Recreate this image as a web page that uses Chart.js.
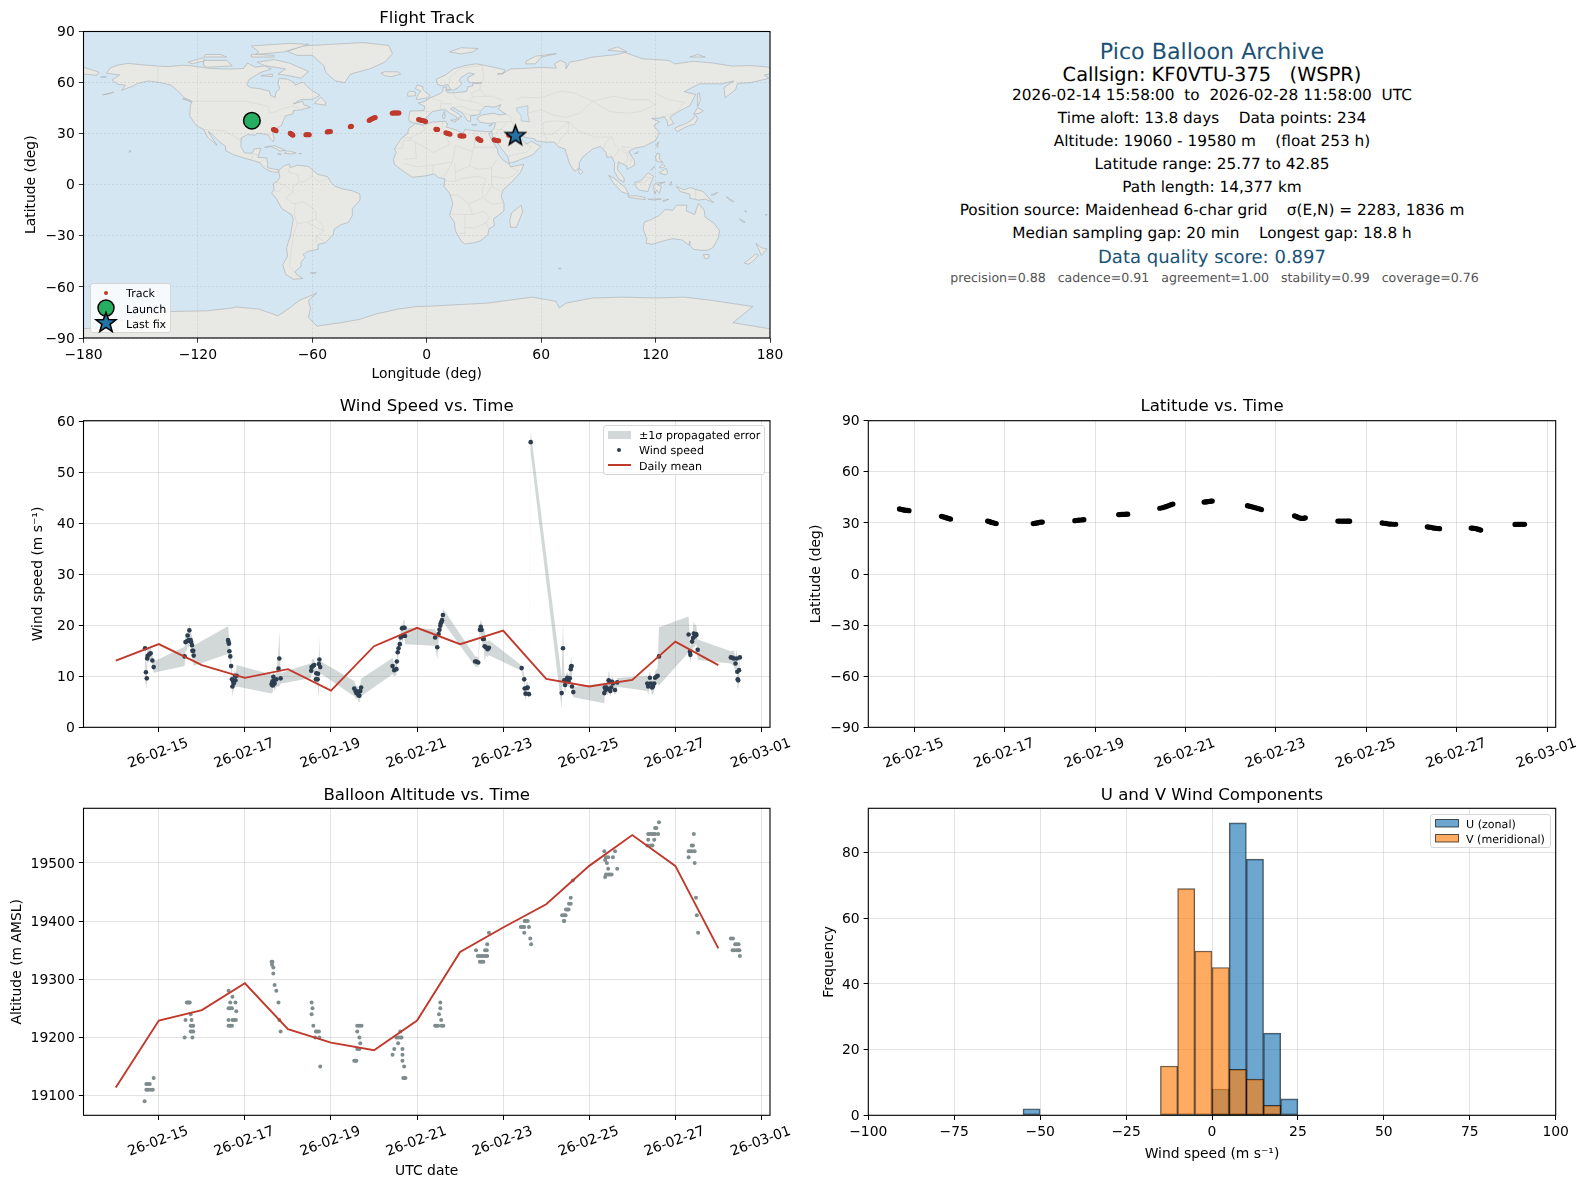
<!DOCTYPE html>
<html>
<head>
<meta charset="utf-8">
<script src="https://cdn.jsdelivr.net/npm/chart.js@4/dist/chart.umd.min.js"></script>
<style>
  html, body { margin: 0; padding: 0; background: #fff; }
  body { position: relative; width: 1588px; height: 1189px; overflow: hidden; font-family: "DejaVu Sans", sans-serif; color: #000; text-rendering: geometricPrecision; }
  canvas { position: absolute; }
  .info { position: absolute; left: 1212px; transform: translate(-50%, -50%); white-space: pre; }
  .legend { position: absolute; box-sizing: border-box; background: rgba(255,255,255,0.8); border: 1px solid #d6d6d6; border-radius: 3px; font-size: 11.1px; z-index: 5; }
  .legend span { position: absolute; transform: translateY(-50%); white-space: pre; }
  .legend svg { position: absolute; overflow: visible; }
</style>
</head>
<body>
<canvas id="mapChart" width="830" height="390" style="left:0;top:0"></canvas>
<canvas id="windChart" width="830" height="385" style="left:0;top:390px"></canvas>
<canvas id="altChart" width="830" height="414" style="left:0;top:775px"></canvas>
<canvas id="latChart" width="798" height="385" style="left:790px;top:390px"></canvas>
<canvas id="histChart" width="798" height="414" style="left:790px;top:775px"></canvas>

<div class="info" style="top:51.5px;font-size:22.2px;color:#1a5276">Pico Balloon Archive</div>
<div class="info" style="top:74.3px;font-size:19.4px">Callsign: KF0VTU-375   (WSPR)</div>
<div class="info" style="top:95.3px;font-size:15.3px">2026-02-14 15:58:00  to  2026-02-28 11:58:00  UTC</div>
<div class="info" style="top:118.3px;font-size:15.3px">Time aloft: 13.8 days    Data points: 234</div>
<div class="info" style="top:141.3px;font-size:15.3px">Altitude: 19060 - 19580 m    (float 253 h)</div>
<div class="info" style="top:164.3px;font-size:15.3px">Latitude range: 25.77 to 42.85</div>
<div class="info" style="top:187.3px;font-size:15.3px">Path length: 14,377 km</div>
<div class="info" style="top:210.3px;font-size:15.3px">Position source: Maidenhead 6-char grid    σ(E,N) = 2283, 1836 m</div>
<div class="info" style="top:233.3px;font-size:15.3px">Median sampling gap: 20 min    Longest gap: 18.8 h</div>
<div class="info" style="top:257px;font-size:18.05px;color:#1a5276">Data quality score: 0.897</div>
<div class="info" style="left:1214.5px;top:277px;font-size:12.6px;color:#555">precision=0.88   cadence=0.91   agreement=1.00   stability=0.99   coverage=0.76</div>

<div class="legend" style="left:90px;top:283px;width:81px;height:50px">
  <svg style="left:15px;top:9px" width="1" height="1"><circle r="2" fill="#c0392b"/></svg>
  <svg style="left:15px;top:24px" width="1" height="1"><circle r="8" fill="#27ae60" stroke="#000" stroke-width="1.5"/></svg>
  <svg style="left:15px;top:39px" width="1" height="1"><polygon points="0,-10.5 2.6,-3.4 10,-3.2 4.1,1.3 6.2,8.5 0,4.3 -6.2,8.5 -4.1,1.3 -10,-3.2 -2.6,-3.4" fill="#2471a3" stroke="#000" stroke-width="1.5"/></svg>
  <span style="left:35px;top:9px">Track</span>
  <span style="left:35px;top:24.5px">Launch</span>
  <span style="left:35px;top:40px">Last fix</span>
</div>
<div class="legend" style="left:603px;top:425px;width:162px;height:50px">
  <svg style="left:4px;top:5px" width="24" height="10"><rect width="23" height="8" fill="rgba(127,140,141,0.35)"/></svg>
  <svg style="left:15px;top:24px" width="1" height="1"><circle r="2" fill="#2c3e50"/></svg>
  <svg style="left:4px;top:39px" width="24" height="1"><line x1="0" x2="23" y1="0" y2="0" stroke="#c0392b" stroke-width="2"/></svg>
  <span style="left:35px;top:9px">±1σ propagated error</span>
  <span style="left:35px;top:24px">Wind speed</span>
  <span style="left:35px;top:40px">Daily mean</span>
</div>
<div class="legend" style="left:1430px;top:814px;width:121px;height:34px">
  <svg style="left:4px;top:4px" width="24" height="9"><rect x="0.5" y="0.5" width="23" height="7.5" fill="rgba(31,119,180,0.65)" stroke="rgba(0,0,0,0.65)"/></svg>
  <svg style="left:4px;top:19px" width="24" height="9"><rect x="0.5" y="0.5" width="23" height="7.5" fill="rgba(255,127,14,0.65)" stroke="rgba(0,0,0,0.65)"/></svg>
  <span style="left:35px;top:9px">U (zonal)</span>
  <span style="left:35px;top:24px">V (meridional)</span>
</div>

<script>
// ----- Tick labels -----
const dateTicks = [15, 17, 19, 21, 23, 25, 27, 29];
const dateLabels = ['26-02-15', '26-02-17', '26-02-19', '26-02-21', '26-02-23', '26-02-25', '26-02-27', '26-03-01'];
const degTicks = [-90, -60, -30, 0, 30, 60, 90];
const lonTicks = [-180, -120, -60, 0, 60, 120, 180];

// ----- Wind speed, one row per daily cluster. Times are days of February 2026 -----
const windTime = [
  14.68, 14.70, 14.72, 14.73, 14.74, 14.78, 14.81, 14.85, 14.88,
  15.60, 15.62, 15.66, 15.67, 15.70, 15.71, 15.74, 15.75, 15.77, 15.78, 15.80, 15.81,
  16.61, 16.62, 16.63, 16.64, 16.66, 16.68, 16.70, 16.71, 16.73, 16.74, 16.77, 16.78, 16.81,
  17.62, 17.63, 17.64, 17.65, 17.66, 17.68, 17.69, 17.73, 17.78, 17.80, 17.83,
  18.54, 18.55, 18.58, 18.61, 18.65, 18.66, 18.69, 18.70, 18.72, 18.73, 18.75,
  19.54, 19.57, 19.59, 19.61, 19.64, 19.66, 19.68, 19.70,
  20.43, 20.47, 20.52, 20.53, 20.55, 20.57, 20.60, 20.62, 20.65, 20.67, 20.68, 20.71, 20.72,
  21.42, 21.47, 21.50, 21.52, 21.54, 21.55, 21.57, 21.58, 21.60,
  22.35, 22.38, 22.42, 22.46, 22.48, 22.50, 22.53, 22.55, 22.57, 22.60, 22.64, 22.67,
  23.43, 23.49, 23.50, 23.52, 23.55, 23.57, 23.60, 23.64,
  24.36, 24.39, 24.42, 24.44, 24.47, 24.49, 24.52, 24.55, 24.57, 24.58, 24.59, 24.60, 24.63,
  25.35, 25.36, 25.38, 25.40, 25.43, 25.45, 25.47, 25.49, 25.51, 25.53, 25.55, 25.60, 25.65,
  26.35, 26.37, 26.41, 26.43, 26.46, 26.48, 26.51, 26.53, 26.56, 26.59, 26.62,
  27.31, 27.34, 27.35, 27.39, 27.41, 27.43, 27.45, 27.48, 27.49, 27.52,
  28.29, 28.33, 28.36, 28.40, 28.43, 28.44, 28.45, 28.46, 28.48, 28.50
];
const windSpeed = [
  15.5, 10.8, 9.6, 13.5, 14.0, 14.3, 14.5, 13.1, 11.8,
  13.9, 16.7, 16.9, 18.0, 17.1, 19.0, 17.1, 16.7, 16.1, 15.0, 15.0, 14.05,
  17.1, 16.7, 16.4, 14.9, 13.9, 12.0, 9.4, 8.0, 9.0, 8.6, 10.1, 9.2, 10.1,
  8.5, 8.3, 9.0, 8.2, 9.9, 9.2, 8.6, 9.4, 11.5, 13.5, 9.6,
  11.1, 11.8, 12.0, 12.2, 9.4, 10.6, 9.4, 10.5, 12.4, 13.3, 11.8,
  7.6, 7.1, 6.7, 7.0, 6.3, 6.2, 7.1, 7.8,
  12.0, 11.2, 11.4, 12.9, 14.7, 15.5, 16.3, 17.6, 19.4, 17.9, 19.5, 19.5, 17.9,
  17.6, 15.7, 18.3, 19.1, 19.9, 20.4, 20.7, 21.0, 22.0,
  12.9, 12.9, 12.7, 19.1, 19.7, 19.1, 17.3, 17.3, 15.9, 15.7, 15.3, 15.6,
  11.6, 9.4, 7.6, 6.6, 7.7, 7.8, 6.5, 55.9,
  6.7, 15.5, 9.2, 8.3, 9.3, 9.7, 9.0, 9.6, 11.4, 11.9, 12.0, 8.0, 6.9,
  6.7, 7.8, 7.3, 7.8, 7.5, 9.2, 9.0, 7.1, 7.8, 8.9, 8.6, 7.3, 8.8,
  8.6, 8.0, 9.7, 8.6, 7.8, 8.0, 8.6, 9.7, 9.9, 10.1, 13.9,
  18.2, 14.8, 14.2, 16.8, 17.5, 18.4, 17.8, 18.3, 18.1, 15.2,
  13.7, 13.6, 13.5, 12.5, 13.5, 10.9, 9.4, 9.2, 11.2, 13.7
];
const windSigma = [
  1.0, 2.2, 2.2, 1.8, 1.3, 1.3, 1.2, 1.1, 1.1,
  1.9, 1.8, 1.7, 1.8, 1.7, 1.6, 1.7, 1.8, 1.9, 2.0, 2.0, 2.0,
  2.7, 2.2, 1.9, 1.5, 1.3, 1.2, 1.6, 2.2, 1.5, 1.5, 1.3, 1.3, 2.1,
  1.85, 1.6, 1.5, 1.4, 1.6, 1.4, 1.5, 1.5, 3.5, 5.5, 1.05,
  1.45, 1.4, 1.4, 1.3, 1.6, 1.3, 1.6, 2.5, 6.0, 3.0, 1.2,
  1.5, 1.3, 1.3, 1.2, 1.3, 1.4, 1.4, 1.7,
  1.6, 1.2, 1.2, 1.2, 1.2, 1.2, 1.3, 1.3, 1.4, 1.3, 1.5, 1.5, 1.6,
  1.6, 2.4, 1.3, 1.2, 1.3, 1.3, 1.3, 1.3, 1.3,
  1.0, 1.0, 1.0, 1.2, 1.4, 1.5, 2.0, 1.8, 3.0, 1.6, 1.5, 1.5,
  0.5, 1.0, 1.2, 1.3, 1.2, 1.1, 1.1, 2.2,
  3.0, 5.2, 1.6, 1.6, 1.2, 1.2, 1.2, 1.3, 1.5, 1.9, 2.0, 1.2, 1.0,
  2.0, 1.2, 1.2, 1.2, 1.2, 1.9, 1.5, 1.1, 1.1, 1.1, 1.1, 1.0, 0.85,
  1.5, 1.6, 1.5, 1.3, 1.5, 1.5, 1.4, 1.3, 1.4, 1.5, 5.7,
  3.5, 1.5, 1.6, 2.0, 2.2, 2.5, 2.2, 1.9, 1.8, 2.0,
  1.2, 1.4, 1.6, 1.3, 1.9, 1.8, 1.7, 1.8, 2.1, 1.8
];
const dailyDays = [14, 15, 16, 17, 18, 19, 20, 21, 22, 23, 24, 25, 26, 27, 28];
const dailyWind = [13.07, 16.3, 12.2, 9.7, 11.4, 7.2, 15.9, 19.5, 16.3, 18.95, 9.5, 8.0, 9.3, 16.8, 12.2];
const dailyAlt = [19114, 19229, 19247, 19293, 19214, 19191, 19178, 19229, 19347, 19389, 19429, 19495, 19548, 19495, 19353];

// ----- Altitude points -----
const altTime = [
  14.67, 14.71, 14.75, 14.71, 14.75, 14.79, 14.81, 14.86, 14.88,
  15.65, 15.67, 15.70, 15.72, 15.74, 15.62, 15.76, 15.74, 15.77, 15.80, 15.74, 15.77, 15.80, 15.60, 15.78,
  16.62, 16.71, 16.66, 16.78, 16.62, 16.66, 16.70, 16.80, 16.62, 16.71, 16.75, 16.79, 16.62, 16.66, 16.70,
  17.62, 17.64, 17.63, 17.66, 17.66, 17.69, 17.73, 17.78, 17.80, 17.83,
  18.55, 18.57, 18.55, 18.59, 18.65, 18.68, 18.72, 18.63, 18.73, 18.75,
  19.61, 19.66, 19.71, 19.61, 19.66, 19.68, 19.61, 19.66, 19.54, 19.57, 19.59,
  20.61, 20.52, 20.56, 20.61, 20.64, 20.56, 20.47, 20.66, 20.43, 20.66, 20.66, 20.70, 20.68, 20.70, 20.73,
  21.54, 21.54, 21.51, 21.56, 21.42, 21.45, 21.49, 21.57, 21.61,
  22.67, 22.63, 22.58, 22.62, 22.37, 22.41, 22.46, 22.50, 22.54, 22.59, 22.63, 22.46, 22.50, 22.54,
  23.50, 23.53, 23.57, 23.41, 23.45, 23.49, 23.60, 23.49, 23.63, 23.65,
  24.62, 24.57, 24.53, 24.57, 24.46, 24.49, 24.52, 24.37, 24.42, 24.45, 24.41, 24.42,
  25.35, 25.60, 25.39, 25.44, 25.55, 25.37, 25.41, 25.44, 25.65, 25.39, 25.44, 25.48, 25.52, 25.37,
  26.62, 26.53, 26.56, 26.37, 26.41, 26.45, 26.49, 26.53, 26.60, 26.37, 26.51, 26.35, 26.43, 26.47,
  27.43, 27.38, 27.41, 27.31, 27.35, 27.39, 27.45, 27.31, 27.45, 27.48, 27.50, 27.53,
  28.29, 28.34, 28.39, 28.43, 28.47, 28.33, 28.37, 28.43, 28.46, 28.49, 28.50
];
const altMeters = [
  19090, 19110, 19110, 19120, 19120, 19120, 19110, 19110, 19130,
  19260, 19260, 19260, 19260, 19240, 19230, 19230, 19220, 19220, 19220, 19210, 19210, 19210, 19200, 19200,
  19280, 19270, 19260, 19260, 19250, 19250, 19250, 19245, 19230, 19230, 19230, 19230, 19220, 19220, 19220,
  19330, 19330, 19325, 19320, 19310, 19290, 19280, 19260, 19230, 19210,
  19260, 19250, 19240, 19220, 19210, 19210, 19210, 19200, 19200, 19150,
  19220, 19220, 19220, 19210, 19200, 19190, 19180, 19180, 19160, 19160, 19160,
  19210, 19200, 19200, 19200, 19200, 19190, 19180, 19180, 19170, 19170, 19160, 19150, 19130, 19130, 19130,
  19260, 19250, 19240, 19230, 19220, 19220, 19220, 19220, 19220,
  19380, 19360, 19350, 19350, 19350, 19340, 19340, 19340, 19340, 19340, 19340, 19330, 19330, 19330,
  19400, 19400, 19400, 19390, 19390, 19390, 19390, 19380, 19370, 19360,
  19470, 19440, 19430, 19430, 19420, 19420, 19420, 19410, 19410, 19410, 19400, 19400,
  19520, 19520, 19510, 19510, 19510, 19505, 19500, 19490, 19490, 19480, 19480, 19480, 19480, 19476,
  19570, 19560, 19560, 19550, 19550, 19550, 19550, 19550, 19550, 19540, 19540, 19530, 19530, 19530,
  19550, 19530, 19530, 19520, 19520, 19520, 19520, 19510, 19500, 19440, 19410, 19380,
  19370, 19370, 19360, 19360, 19360, 19350, 19350, 19350, 19350, 19350, 19340
];

// ----- Latitude points -----
const latTime = [
  14.67, 14.70, 14.73, 14.76, 14.79, 14.82, 14.85, 14.88,
  15.60, 15.63, 15.66, 15.69, 15.72, 15.75, 15.78, 15.80,
  16.62, 16.65, 16.68, 16.71, 16.74, 16.77, 16.81,
  17.63, 17.66, 17.69, 17.72, 17.75, 17.79, 17.83,
  18.55, 18.58, 18.61, 18.64, 18.68, 18.72, 18.75,
  19.52, 19.55, 19.58, 19.61, 19.64, 19.68, 19.72,
  20.43, 20.48, 20.52, 20.56, 20.60, 20.64, 20.68, 20.72,
  21.41, 21.44, 21.47, 21.50, 21.53, 21.56, 21.59,
  22.37, 22.41, 22.45, 22.49, 22.53, 22.57, 22.61, 22.65, 22.68,
  23.41, 23.44, 23.47, 23.50, 23.54, 23.58, 23.62, 23.65,
  24.37, 24.41, 24.45, 24.49, 24.53, 24.57, 24.60, 24.63,
  25.35, 25.39, 25.43, 25.47, 25.51, 25.55, 25.60, 25.65,
  26.35, 26.39, 26.43, 26.47, 26.51, 26.55, 26.59, 26.62,
  27.32, 27.35, 27.38, 27.41, 27.44, 27.47, 27.50, 27.53,
  28.29, 28.32, 28.35, 28.38, 28.41, 28.44, 28.47, 28.50
];
const latDeg = [
  38.2, 38.0, 37.8, 37.6, 37.5, 37.4, 37.3, 37.2,
  33.9, 33.6, 33.4, 33.1, 32.9, 32.6, 32.4, 32.3,
  31.1, 30.9, 30.6, 30.3, 30.1, 29.9, 29.6,
  29.6, 29.7, 29.9, 30.0, 30.2, 30.4, 30.5,
  31.3, 31.4, 31.5, 31.6, 31.7, 31.8, 31.9,
  34.9, 34.9, 35.0, 35.0, 35.0, 35.1, 35.1,
  38.6, 38.9, 39.2, 39.5, 39.9, 40.3, 40.7, 41.1,
  42.2, 42.3, 42.4, 42.5, 42.6, 42.75, 42.85,
  40.1, 39.8, 39.6, 39.3, 39.0, 38.7, 38.4, 38.1, 37.8,
  34.2, 33.9, 33.5, 33.1, 32.8, 32.6, 32.8, 33.0,
  31.1, 31.0, 31.0, 31.0, 31.0, 31.0, 31.0, 31.0,
  30.0, 29.8, 29.7, 29.5, 29.3, 29.3, 29.2, 29.2,
  27.7, 27.5, 27.4, 27.1, 26.9, 26.8, 26.7, 26.6,
  27.0, 26.9, 26.8, 26.7, 26.5, 26.3, 26.0, 25.77,
  29.1, 29.2, 29.2, 29.2, 29.2, 29.2, 29.2, 29.2
];

// ----- Flight track -----
const trackLon = [
  -92, -91, -90, -89,
  -80.4, -80, -79.6, -79.3, -79,
  -71.6, -71.2, -70.8, -70.5, -70.2,
  -63.4, -63, -62.5, -62, -61.6,
  -52.2, -51.8, -51.4, -51, -50.5,
  -40.1, -39.9, -39.7, -39.5,
  -30.2, -29.7, -29.2, -28.6, -28, -27.5, -27,
  -18.1, -17.5, -16.9, -16.3, -15.7, -15.1, -14.6,
  -4.3, -3.7, -3.1, -2.5, -1.9, -1.2, -0.6,
  4.8, 5.1, 5.4, 5.7,
  10, 10.6, 11.1, 11.7, 12.2,
  17.4, 17.9, 18.4, 19, 19.5,
  26.7, 27.1, 27.5, 28, 28.4,
  35.3, 35.9, 36.5, 37.1, 37.7,
  43, 44, 45, 46
];
const trackLat = [
  38.2, 37.9, 37.5, 37.2,
  32.5, 32.3, 32.1, 31.9, 31.7,
  30.3, 30, 29.7, 29.4, 29.1,
  29.3, 29.3, 29.3, 29.4, 29.4,
  31, 31.1, 31.1, 31.1, 31.2,
  34, 34.2, 34.2, 34.3,
  37.8, 38.1, 38.4, 38.7, 39, 39.3, 39.5,
  42, 42.1, 42.1, 42.1, 42.2, 42.2, 42.2,
  38.3, 38.1, 37.9, 37.8, 37.6, 37.4, 37.2,
  32.6, 32.5, 32.5, 32.4,
  30.5, 30.3, 30.1, 29.9, 29.7,
  28.8, 28.7, 28.7, 28.7, 28.6,
  27, 26.8, 26.5, 26.2, 26,
  26.4, 26.2, 26, 25.8, 25.77,
  29, 29.1, 29.2, 29.2
];
const launchPoint = { x: -91.7, y: 37.6 };
const lastFixPoint = { x: 46.5, y: 28.7 };

// ----- Wind component histogram, 5 m/s bins from -100 to 100 -----
const binCentres = [
  -97.5, -92.5, -87.5, -82.5, -77.5, -72.5, -67.5, -62.5, -57.5, -52.5,
  -47.5, -42.5, -37.5, -32.5, -27.5, -22.5, -17.5, -12.5, -7.5, -2.5,
  2.5, 7.5, 12.5, 17.5, 22.5, 27.5, 32.5, 37.5, 42.5, 47.5,
  52.5, 57.5, 62.5, 67.5, 72.5, 77.5, 82.5, 87.5, 92.5, 97.5
];
const uCounts = [0, 0, 0, 0, 0, 0, 0, 0, 0, 2, 0, 0, 0, 0, 0, 0, 0, 0, 0, 0, 8, 89, 78, 25, 5, 0, 0, 0, 0, 0, 0, 0, 0, 0, 0, 0, 0, 0, 0, 0];
const vCounts = [0, 0, 0, 0, 0, 0, 0, 0, 0, 0, 0, 0, 0, 0, 0, 0, 0, 15, 69, 50, 45, 14, 11, 3, 0, 0, 0, 0, 0, 0, 0, 0, 0, 0, 0, 0, 0, 0, 0, 0];

// ----- Map outlines as [lon, lat] -----
const northAmerica = [[-168,65.5],[-166,68.5],[-162,70.3],[-156.5,71.3],[-150,70.5],[-141,69.7],[-135,69.4],[-128,70.2],[-124,69.9],[-115,68.5],[-108,68],[-102,68],[-96,68.3],[-94,71.5],[-90,69],[-85,69.8],[-81.5,68],[-87,66],[-93,62],[-94.5,58.8],[-92.5,57],[-88,56.5],[-82.5,55],[-82,52.5],[-79.5,51.3],[-79,54.5],[-77,56.5],[-78,59],[-77.5,62.5],[-73,62],[-69.5,60],[-69,58.5],[-65,60.3],[-61,56],[-56,52.5],[-60,50.2],[-66,50],[-70,47.5],[-65,49],[-64.5,47],[-61,45.5],[-66,44],[-70,43.5],[-70,41.7],[-74,40.5],[-75.5,37],[-76,35],[-81,31.5],[-80,27],[-80.5,25.2],[-82,27],[-83,29.2],[-85,29.7],[-89,30.3],[-90,29.1],[-94,29.5],[-97.3,27.5],[-97.5,22.5],[-95.5,18.7],[-91.5,18.5],[-90.5,21],[-87,21.5],[-88,18],[-88.5,16],[-84,15.8],[-83.3,12],[-83.5,10],[-80,9.2],[-77.5,8.7],[-77.5,7.5],[-80,7.3],[-83,8.3],[-85.5,10],[-87.5,13],[-92,14.5],[-96,15.8],[-101,17.5],[-105.5,20],[-105.5,22.5],[-109,25.5],[-112.5,29.5],[-114.7,31.5],[-112.5,27.5],[-110,23.2],[-112,25],[-115,28],[-117,32.5],[-120.5,34.5],[-122.5,37.5],[-124.3,40.5],[-124,46.5],[-123,49],[-127,51],[-130.5,55],[-134,58.5],[-140,60],[-146,61],[-151.5,59.5],[-154,58],[-160,55.5],[-158,58.5],[-162,59],[-165,61.5],[-161,64.5]];
const greenland = [[-73,78.3],[-65,81.5],[-50,82.5],[-33,83.5],[-20,81.8],[-18,77],[-22,72],[-30,68],[-40,65],[-43,60],[-48,61],[-53,66],[-54,70],[-60,76],[-68,76]];
const southAmerica = [[-77.5,8.5],[-75,11],[-72,12.2],[-71.5,10],[-68,11.5],[-62,10.7],[-57,6],[-52,4.8],[-50,1],[-48,-1],[-44,-2.5],[-39,-3.5],[-35,-5.5],[-35,-9],[-39,-14],[-39,-18],[-41,-22],[-45,-23.5],[-48.5,-26],[-49,-29],[-53,-34],[-57,-35],[-57,-38],[-62,-39],[-65,-41],[-63.5,-42.5],[-66,-45.5],[-66,-48],[-69,-51],[-68,-53],[-65,-55],[-70,-55.5],[-74,-52.5],[-75.5,-47],[-73,-42],[-73.5,-37],[-71.5,-30],[-70,-20],[-71,-17.5],[-76,-14],[-79,-8],[-81.3,-5],[-80,-2.5],[-80.5,0.5],[-78.5,2],[-77,4],[-77.5,7]];
const africa = [[-6,35.8],[-2,35],[3,36.8],[10,37.3],[11,35],[10,34],[15,32.3],[19,30.3],[20,32.5],[25,31.7],[32,31.2],[34.3,31.3],[32.5,29.9],[34,26.5],[37,21],[37.5,18],[39.5,15],[43.3,12],[44,10.5],[51,12],[49,7],[44,1],[40,-3],[39,-7],[40.5,-11],[40.5,-15.5],[35,-20],[35.5,-24],[32.7,-26],[32,-29.5],[28,-33],[25,-34],[20,-34.8],[18.3,-33.5],[15,-27],[14.5,-22],[12,-18],[13.7,-11],[12,-5],[9,-1],[9.5,3.5],[6,4.3],[4,6.3],[-2,5],[-7.5,4.4],[-13,8.5],[-17,12],[-17.5,15],[-16,19],[-17,21],[-13,27.7],[-10,30],[-9.5,33]];
const eurasia = [[-9,37],[-9.5,39],[-8.8,43.3],[-1.5,43.5],[-1,46],[-4.5,48],[-1.5,48.7],[1.5,50.8],[4,52],[7,53.5],[8.5,55],[8.5,57],[10.5,57.6],[10,55],[11,54],[14,54],[19,54.5],[21,55],[21.5,57.5],[24,58],[24,59.3],[29,59.8],[23,60],[21.5,61],[21.5,63],[25,65],[22,65.8],[18,63],[17,61],[18.5,59.5],[16.5,57],[14,55.5],[12.5,56],[11,59],[8,58],[5.5,59],[5,62],[10,64.5],[14,68],[20,70],[26,71],[31,70],[41,67.5],[40,65],[37,65],[40,65.5],[44,68],[54,68.5],[60,69],[68,68.5],[67,71],[70,73],[73,71.5],[73,68],[75,72],[80,73],[87,75],[100,76.5],[104,77.7],[113,74],[127,73],[130,71],[140,72.5],[150,71.5],[160,69.7],[170,70],[180,69],[180,65],[177,64.5],[179.5,62.5],[170,60],[163,59.5],[162,56],[156.5,51],[155.8,57],[161,61],[155,59.3],[143,59.3],[135,54.7],[141,53],[138,46.5],[132,43],[127.5,39.7],[129.5,36],[126.5,34.5],[126,37.5],[124.5,40],[121.5,39],[118,39],[122,37],[119,34.8],[122,30.5],[120,26],[114,22.5],[109,21.5],[106,19.5],[109,14],[109,11.5],[105,9],[105,11],[100.5,13.5],[100,9],[103.5,4],[103.5,1.5],[101,3],[98.3,8],[98.5,13],[97,16.5],[94.5,16],[94,19],[91,22.5],[87,21],[82,16.5],[80,13],[80,10],[77.5,8],[75,12],[73,19],[72.5,21],[69,22.3],[67,25],[61.5,25],[57,25.8],[56.5,27],[51.5,27.8],[48.5,30],[48,29.5],[50,26.5],[51.5,25],[52,24],[55,25.5],[56.5,24.5],[59.8,22.5],[55.5,17.5],[52,16],[45,13],[43.3,12.7],[42.5,16.5],[39,21.5],[35,28],[34.5,28],[34,31.3],[35.5,33.5],[36,36.5],[32.5,36],[28,36.7],[26.3,39],[29,41],[35,42],[38,41],[41.5,41.5],[37.5,44.5],[39,47],[35,45.5],[33,46],[30.5,46],[28,43],[28,41.5],[26,40.8],[23,40.5],[23,37],[21,38],[19.5,41],[19,42],[13.5,45.5],[12.5,44.5],[16,42],[18.5,40],[16.5,39.5],[17,38.5],[16,38],[15.5,40],[12,42],[10,44],[8,44],[3,43],[0,39.5],[-2,37],[-5.5,36]];
const antarctica = [[-180,-84.5],[-172,-84],[-158,-79],[-148,-76],[-135,-74.5],[-115,-74],[-103,-72.5],[-100,-71.8],[-88,-73],[-78,-77],[-72,-72.5],[-67,-68],[-57.6,-63.6],[-62,-68],[-61,-72.5],[-62,-78],[-57.6,-83],[-45,-81],[-35,-79],[-27,-76],[-15,-73],[-5,-71.5],[0,-71.4],[15,-70.5],[32,-69.5],[45,-67.5],[55.5,-66],[67.8,-68.5],[69.5,-72.4],[73,-69.5],[87,-66.5],[103,-66],[120,-66.5],[135,-66],[150,-68],[171,-71.5],[164,-78],[160.5,-81],[180,-84.6],[180,-90],[-180,-90]];
const australia = [[114,-22],[113.5,-26],[115.5,-32],[115,-34.3],[118,-35],[124,-33],[129,-31.7],[134,-32.5],[137.5,-35.5],[138,-33],[138,-35.7],[140,-38],[144,-38.5],[147,-38.5],[150,-37],[153,-31],[153.5,-27],[150.5,-22.5],[146,-19],[145.5,-15],[142.5,-11],[141.5,-14],[140.5,-17.5],[136,-15.3],[136.5,-12],[131,-12],[129,-15],[125,-14.5],[122,-18],[118,-20.3]];
const islands = [
  [[-80,73.5],[-72,71.5],[-67,69],[-62,66.5],[-66,62.5],[-72,64],[-78,65],[-74,68],[-85,70],[-89,72]],
  [[-117,73],[-105,73],[-102,69.8],[-115,69],[-117,70]],
  [[-90,76.5],[-75,78],[-62,82.5],[-72,83],[-92,81.5],[-88,78]],
  [[-125,72],[-118,74.5],[-116,73],[-123,71]],
  [[-92,75],[-80,75],[-80,76],[-92,76.7]],
  [[-117,75],[-105,75],[-108,76.5],[-116,76.5]],
  [[-87,64],[-81,63.5],[-81,65]],
  [[-59,47.7],[-53,46.7],[-53,48.5],[-55.5,51.5]],
  [[-128,50.5],[-123.5,48.5],[-125,50]],
  [[-24,65.5],[-22,66.4],[-15,66.3],[-13.7,65],[-18.5,63.5],[-22,64]],
  [[-5.5,50],[1,51],[1.5,52.8],[-1,54.7],[-2,56],[-2,57.6],[-5,58.6],[-6,56.5],[-3,54.8],[-4.5,53.2],[-5,51.7]],
  [[-10,52],[-6,52.2],[-6,54.5],[-8.5,55],[-10,54]],
  [[12,78],[18,76.8],[24,78],[27,80],[18,80.5]],
  [[52,71],[57,71],[60,75],[68,77],[57,75.5],[52,72.5]],
  [[95,79],[105,78],[100,81]],
  [[138,75],[146,75],[142,76.5]],
  [[142,46],[143.5,49.5],[143,54],[142,53.5],[142,49]],
  [[130,33],[132,34.3],[136,36],[139,38],[141,41],[142,39],[140.5,35.5],[137,34.5],[135,33.5],[131.5,31.2]],
  [[140,41.5],[142,45.3],[145,43.5],[143,42]],
  [[120.2,23],[121.5,25.2],[121,22]],
  [[109,18.3],[111,19.5],[110.5,18.5]],
  [[120,16],[120.7,18.5],[122.2,18.3],[122,15],[124,13],[120.5,13.8]],
  [[122,7],[125.5,9.7],[126.5,7],[125,5.7]],
  [[117.5,8.5],[119.5,11],[119,10]],
  [[122,10],[123.5,12],[125,11],[124,10]],
  [[109,1.5],[111,1.7],[113,3],[116,7],[119,5],[117.5,1],[116,-4],[111,-3],[109.5,-0.5]],
  [[95.3,5.5],[98,4],[104,-1.5],[106,-5.8],[102,-4],[98,1]],
  [[105.5,-6.5],[110,-6.5],[114.5,-7.5],[114.5,-8.7],[106,-7.5]],
  [[119.5,-5.5],[119,-1],[120,1],[125,1.5],[121,0],[123,-1],[122,-5],[120.5,-3]],
  [[124,-10],[127,-8.5],[124,-9.2]],
  [[116,-8.5],[120,-8.3],[123,-8.4],[119,-9]],
  [[127.5,1],[128.5,2],[128,-0.5]],
  [[131,-1],[135,-3],[138,-1.7],[145,-4],[148,-8],[150.5,-10.5],[146,-8.5],[142.5,-9],[138,-8],[138,-5.5],[133,-4]],
  [[149,-6],[152.5,-4.5],[151,-6]],
  [[157,-7],[161,-9.8],[160,-10]],
  [[145,-41],[148,-41],[148,-43],[146,-43.5]],
  [[172.7,-34.5],[175.5,-37],[178.5,-37.7],[175.5,-41.5],[174.5,-39]],
  [[172.5,-40.5],[174,-41.5],[171,-45],[168.5,-46.7],[166.5,-46],[170,-43]],
  [[164,-20],[167,-22],[165.5,-21.8]],
  [[167,-15],[167.8,-16],[167,-16]],
  [[177.5,-17.5],[178.5,-17.5],[178,-18.2]],
  [[49.5,-12],[50.3,-16],[47,-25],[44,-25],[43.5,-21],[44.5,-16.5]],
  [[80,9.7],[82,7.5],[80.5,6],[79.7,8]],
  [[-85,22],[-80,23],[-74,20.2],[-77.5,19.8],[-78,20.7],[-82,22.5]],
  [[-74.5,18.5],[-73,20],[-68.5,18.7],[-71,18]],
  [[-78.3,18.3],[-76.3,18],[-77,17.8]],
  [[-67,18.4],[-65.7,18.3],[-66,18]],
  [[-156,19],[-155,19.7],[-155.8,20.2]],
  [[-61,-51.8],[-58,-51.5],[-59,-52.3]],
  [[69,-49],[70.5,-49],[70,-49.7]],
  [[32.5,34.7],[34.5,35.6],[33.5,34.7]],
  [[23.5,35.4],[26.3,35.2],[24.5,34.9]],
  [[12.5,38],[15.5,38.2],[15,36.7]],
  [[8.2,41],[9.7,41],[9.5,39.2],[8.5,39]],
  [[8.7,42.5],[9.5,43],[9.3,41.4]],
  [[-170,63.5],[-168,63.2],[-171,63.2]],
  [[-170,52.8],[-164,54.5],[-166,53.5]],
  [[-180,65],[-173,64.3],[-172,66.2],[-180,69]],
  [[10,56],[12.5,55.7],[11,55]]
];
const inlandWater = [
  [[47,45],[53,46.5],[53,41],[54,37],[49.5,37.5],[49.5,40.5],[47.5,43]]
];
const borders = [
  [[-123,49],[-95,49],[-83,46],[-82.5,42],[-79,43],[-75,45],[-70,46],[-67,45]],[[-141,60],[-141,69.7]],[[-117,32.5],[-106,31.7],[-97.5,26]],
  [[-92,14.5],[-91,17.8],[-89,17.8],[-88.5,16]],[[-87.5,13],[-85,15]],[[-85.5,11],[-83.7,11]],[[-83,8.3],[-82.7,10]],
  [[-72,12],[-72.5,7.5],[-67.5,6],[-67,1.5]],[[-67,1.5],[-70,-1],[-70,-4.2]],[[-79,1.5],[-75,0],[-70,-4.2]],[[-80.3,-3.5],[-78,-4],[-75,-1]],
  [[-70,-4.2],[-74,-7.5],[-70.5,-11],[-69,-11]],[[-69,-11],[-65,-10],[-60,-13.5],[-58,-16.5],[-58,-20]],[[-69,-11],[-69.5,-17.5],[-68,-22.8],[-62.5,-22],[-58,-20]],
  [[-62.5,-22],[-58,-25],[-54.5,-27],[-54.5,-24],[-58,-20]],[[-68,-22.8],[-70,-30],[-71,-38],[-72,-48],[-69,-52]],[[-58,-34],[-58,-30],[-53.5,-33.5]],[[-57.5,-30],[-53.5,-27]],
  [[-60,8.5],[-60,5],[-57,2],[-54,2.3],[-52,3.8]],[[-67,1.5],[-64,2],[-60,5]],
  [[-2,35],[-1,32],[-8.7,27.5]],[[-13,27.7],[-8.7,27.5],[-8.7,26],[-12,26],[-13,21.5],[-17,21]],[[-12,15],[-5.5,15.5],[-6,25],[-8.7,27.5]],[[-6,25],[3.5,19],[12,23.5]],
  [[8.5,37],[8,33],[10,30],[12,23.5]],[[25,31.7],[25,22]],[[15,23],[24,19.5],[25,22]],[[25,22],[36.8,22]],[[15,23],[13.5,13.5]],[[3,6.4],[3.5,11.5],[13.5,13.5],[9,4.5]],
  [[-12,12.5],[-5,10.5],[3.5,11.5]],[[14.5,12.8],[15,7.5],[15,2],[9.7,2.2]],[[24,19.5],[22.5,11],[15,7.5]],[[22.5,11],[27,9],[34,10]],[[36.8,15],[34,10],[34,5]],
  [[43,11],[48,8],[45,5],[41,3.8],[34,5]],[[34,5],[34,-1],[39.5,-4.6]],[[15,2],[18,3.5],[27,5],[31,3.5],[29.5,-1],[29,-8],[22,-11]],[[12.2,-6],[16,-6],[22,-11],[24,-17.5]],
  [[34,-1],[30,-8],[34.5,-11.5],[40.5,-10.5]],[[12,-17.3],[24,-17.5],[30,-15.5]],[[20,-18],[20,-28.5],[17,-28.5]],[[20,-25],[25,-25.5],[31,-22.3],[32.7,-26]],[[30,-15.5],[33,-19],[31,-22.3]],
  [[-1.7,43.4],[3,42.4]],[[2.5,51],[6,49.5],[8,49],[7.5,47.5],[7,44]],[[14,54],[15,51],[19,49.5],[22.5,49]],[[13,47.5],[8,47.5]],[[40,49.7],[34,52],[31,52],[24,51.5],[22.5,49],[27,48],[30,46]],
  [[28,56],[28,59.5]],[[24,51.5],[23.5,54],[28,56],[31,52]],[[29,60],[30,63],[29,70]],[[12,59],[12,63],[18,68.5],[21,69],[29,70]],[[13.5,45.5],[19,46],[22.5,44],[28,43.7]],[[19.5,42],[23,41],[26,41.5]],
  [[36,36.7],[44.5,37.2],[44,40],[41.5,41.5]],[[44.5,37.2],[46,33],[48.5,30]],[[42,37],[39,32.5],[36,32.5]],[[35,29.5],[39,32.5],[47,29],[48.5,29]],[[43,17],[52,19],[55,22],[52,24]],
  [[61,36.5],[61,30],[63,27],[61.5,25]],[[61,30],[66,29.5],[71,34],[74.5,37]],[[52.5,42],[60,44],[66,41],[73,39.5]],[[61,36.5],[66,37.5],[74.5,37]],[[47,50],[50,51.5],[60,51],[70,55],[77,54],[87,49]],
  [[87,49],[80,42],[73,39.5]],[[87,49],[98,52],[107,50],[116,50],[120,47],[112,43],[105,42],[96,43],[87,49]],[[120,53.5],[127,50],[135,48.3],[131,43]],[[74.5,37],[79,32],[88,28],[97,28]],
  [[74.5,37],[74,31],[70,27],[69,24]],[[97,28],[98.5,24],[101,21],[98,16]],[[92.5,21],[94,25],[97,28]],[[102,22.5],[106,18],[107.5,14],[106,11]],[[101,21],[105,18],[105.5,14.5],[102.5,12]],
  [[102,22.5],[108,21.5]],[[124.5,40],[130.5,42.5]],[[126.5,37.8],[128.5,38.5]],[[141,-2.6],[141,-9]],
  [[115,4.5],[118,4.3],[114,1.5],[110,1]]
];

// ----- Shared styling -----
Chart.defaults.font.family = '"DejaVu Sans", sans-serif';
Chart.defaults.font.size = 13.9;
Chart.defaults.color = '#000';
Chart.defaults.animation = false;
Chart.defaults.plugins.legend.display = false;
Chart.defaults.plugins.tooltip.enabled = false;

const GRID = 'rgba(176,176,176,0.35)';
const RED = '#c0392b';

function minusSign(v) {
  return String(v).replace('-', '\u2212');
}

// fixed axis sizes so every frame lands on the same pixels as the original
function fixedAxis(size, tickValues, format) {
  return {
    afterFit: (s) => { if (s.isHorizontal()) s.height = size; else s.width = size; },
    afterBuildTicks: (s) => { s.ticks = tickValues.map((v) => ({ value: v })); },
    grid: { color: GRID, tickColor: '#000', tickLength: 4.7, lineWidth: 1 },
    border: { display: false },
    ticks: { color: '#000', autoSkip: false, padding: 4, callback: format || minusSign }
  };
}

function dateAxis(size, min, max, title, titleBottom) {
  const axis = fixedAxis(size, dateTicks, (v, i) => dateLabels[i]);
  axis.type = 'linear';
  axis.min = min;
  axis.max = max;
  axis.ticks.minRotation = 20;
  axis.ticks.maxRotation = 20;
  axis.ticks.labelOffset = 29;
  axis.ticks.padding = 3;
  if (title) axis.title = { display: true, text: title, padding: { top: 0, bottom: titleBottom } };
  return axis;
}

function valueAxis(size, min, max, tickValues, title, labelCentre) {
  const axis = fixedAxis(size, tickValues);
  axis.type = 'linear';
  axis.min = min;
  axis.max = max;
  axis.ticks.labelOffset = 1;
  axis.title = { display: true, text: title, padding: { top: labelCentre - 8.3, bottom: 0 } };
  return axis;
}

function plotTitle(text, centre, total) {
  const top = centre - 10;
  return { display: true, text: text, fullSize: false, color: '#000', font: { size: 16.6, weight: 'normal' }, padding: { top: top, bottom: total - top - 19.92 } };
}

const framePlugin = {
  id: 'frame',
  afterDraw(chart) {
    const a = chart.chartArea;
    const ctx = chart.ctx;
    ctx.save();
    ctx.strokeStyle = '#000';
    ctx.lineWidth = 1.1;
    ctx.strokeRect(a.left, a.top, a.right - a.left, a.bottom - a.top);
    ctx.restore();
  }
};

function tracePolygon(ctx, chart, poly) {
  const xs = chart.scales.x;
  const ys = chart.scales.y;
  ctx.beginPath();
  poly.forEach((p, i) => {
    const px = xs.getPixelForValue(p[0]);
    const py = ys.getPixelForValue(p[1]);
    if (i === 0) ctx.moveTo(px, py); else ctx.lineTo(px, py);
  });
}

const worldPlugin = {
  id: 'world',
  beforeDatasetsDraw(chart) {
    const a = chart.chartArea;
    const ctx = chart.ctx;
    ctx.save();
    ctx.beginPath();
    ctx.rect(a.left, a.top, a.right - a.left, a.bottom - a.top);
    ctx.clip();
    ctx.fillStyle = '#d4e6f1';
    ctx.fillRect(a.left, a.top, a.right - a.left, a.bottom - a.top);

    const land = [northAmerica, greenland, southAmerica, africa, eurasia, antarctica, australia].concat(islands);
    land.forEach((poly) => {
      tracePolygon(ctx, chart, poly);
      ctx.closePath();
      ctx.fillStyle = '#e8e8e4';
      ctx.fill();
      ctx.strokeStyle = 'rgba(170,175,178,0.7)';
      ctx.lineWidth = 0.9;
      ctx.stroke();
    });
    inlandWater.forEach((poly) => {
      tracePolygon(ctx, chart, poly);
      ctx.closePath();
      ctx.fillStyle = '#d4e6f1';
      ctx.fill();
      ctx.strokeStyle = 'rgba(170,175,178,0.7)';
      ctx.lineWidth = 0.7;
      ctx.stroke();
    });
    ctx.strokeStyle = 'rgba(200,200,196,0.5)';
    ctx.lineWidth = 0.7;
    borders.forEach((line) => {
      tracePolygon(ctx, chart, line);
      ctx.stroke();
    });
    ctx.restore();
  }
};

function starImage(radius) {
  const c = document.createElement('canvas');
  const size = radius * 2 + 6;
  c.width = size;
  c.height = size;
  const ctx = c.getContext('2d');
  ctx.beginPath();
  for (let i = 0; i < 10; i++) {
    const r = i % 2 === 0 ? radius : radius * 0.42;
    const ang = -Math.PI / 2 + (i * Math.PI) / 5;
    const px = size / 2 + r * Math.cos(ang);
    const py = size / 2 + r * Math.sin(ang);
    if (i === 0) ctx.moveTo(px, py); else ctx.lineTo(px, py);
  }
  ctx.closePath();
  ctx.fillStyle = '#2471a3';
  ctx.fill();
  ctx.strokeStyle = '#000';
  ctx.lineWidth = 1.5;
  ctx.stroke();
  return c;
}

function points(xs, ys) {
  return xs.map((x, i) => ({ x: x, y: ys[i] }));
}

// ----- Flight track -----
const mapX = fixedAxis(52, lonTicks);
mapX.type = 'linear';
mapX.min = -180;
mapX.max = 180;
mapX.grid.z = 1;
mapX.border = { display: false, dash: [2, 2] };
mapX.grid.color = 'rgba(120,120,120,0.2)';
mapX.grid.lineWidth = 0.8;
mapX.grid.tickBorderDash = [];
mapX.title = { display: true, text: 'Longitude (deg)', padding: { top: 0, bottom: 7 } };
const mapY = valueAxis(83.5, -90, 90, degTicks, 'Latitude (deg)', 31);
mapY.grid.z = 1;
mapY.border = { display: false, dash: [2, 2] };
mapY.grid.color = 'rgba(120,120,120,0.2)';
mapY.grid.lineWidth = 0.8;
mapY.grid.tickBorderDash = [];

new Chart(document.getElementById('mapChart'), {
  type: 'line',
  data: {
    datasets: [
      { data: [lastFixPoint], showLine: false, pointStyle: starImage(10.5), order: 1 },
      { data: [launchPoint], showLine: false, pointRadius: 8.3, pointBackgroundColor: '#27ae60', pointBorderColor: '#000', pointBorderWidth: 1.5, order: 2 },
      { data: points(trackLon, trackLat), showLine: false, pointRadius: 2.5, pointBackgroundColor: RED, pointBorderWidth: 0, order: 3 }
    ]
  },
  options: {
    responsive: false,
    layout: { autoPadding: false, padding: { right: 60 } },
    plugins: { title: plotTitle('Flight Track', 19, 31.5) },
    scales: { x: mapX, y: mapY }
  },
  plugins: [worldPlugin, framePlugin]
});

// ----- Wind speed -----
new Chart(document.getElementById('windChart'), {
  type: 'line',
  data: {
    datasets: [
      { data: points(windTime, windSpeed.map((v, i) => v + windSigma[i])), borderWidth: 0, pointRadius: 0, fill: '+1', backgroundColor: 'rgba(127,140,141,0.35)', order: 3 },
      { data: points(windTime, windSpeed.map((v, i) => v - windSigma[i])), borderWidth: 0, pointRadius: 0, fill: false, order: 3 },
      { data: points(windTime, windSpeed), showLine: false, pointRadius: 2.3, pointBackgroundColor: '#2c3e50', pointBorderWidth: 0, order: 2 },
      { data: points(dailyDays, dailyWind), borderColor: RED, borderWidth: 1.9, pointRadius: 0, order: 1 }
    ]
  },
  options: {
    responsive: false,
    layout: { autoPadding: false, padding: { right: 60 } },
    plugins: { title: plotTitle('Wind Speed vs. Time', 16.5, 30.7) },
    scales: {
      x: dateAxis(47.7, 13.25, 29.2),
      y: valueAxis(83.5, 0, 60.1, [0, 10, 20, 30, 40, 50, 60], 'Wind speed (m s\u207B\u00B9)', 38.5)
    }
  },
  plugins: [framePlugin]
});

// ----- Altitude -----
new Chart(document.getElementById('altChart'), {
  type: 'line',
  data: {
    datasets: [
      { data: points(altTime, altMeters), showLine: false, pointRadius: 2, pointBackgroundColor: '#7f8c8d', pointBorderWidth: 0, order: 2 },
      { data: points(dailyDays, dailyAlt), borderColor: RED, borderWidth: 1.9, pointRadius: 0, order: 1 }
    ]
  },
  options: {
    responsive: false,
    layout: { autoPadding: false, padding: { right: 60 } },
    plugins: { title: plotTitle('Balloon Altitude vs. Time', 20.5, 33.3) },
    scales: {
      x: dateAxis(73.7, 13.25, 29.2, 'UTC date', 9),
      y: valueAxis(83.5, 19066, 19594, [19100, 19200, 19300, 19400, 19500], 'Altitude (m AMSL)', 17)
    }
  },
  plugins: [framePlugin]
});

// ----- Latitude -----
new Chart(document.getElementById('latChart'), {
  type: 'line',
  data: {
    datasets: [
      { data: points(latTime, latDeg), showLine: false, pointRadius: 2.6, pointBackgroundColor: '#000', pointBorderWidth: 0 }
    ]
  },
  options: {
    responsive: false,
    layout: { autoPadding: false, padding: { right: 32.3 } },
    plugins: { title: plotTitle('Latitude vs. Time', 16.5, 30.7) },
    scales: {
      x: dateAxis(47.7, 13.98, 29.19),
      y: valueAxis(78.3, -90, 90, degTicks, 'Latitude (deg)', 26)
    }
  },
  plugins: [framePlugin]
});

// ----- U and V histogram -----
const histX = fixedAxis(73.7, [-100, -75, -50, -25, 0, 25, 50, 75, 100]);
histX.type = 'linear';
histX.offset = false;
histX.grid.offset = false;
histX.min = -100;
histX.max = 100;
histX.title = { display: true, text: 'Wind speed (m s\u207B\u00B9)', padding: { top: 0, bottom: 26 } };

new Chart(document.getElementById('histChart'), {
  type: 'bar',
  data: {
    labels: binCentres,
    datasets: [
      { data: points(binCentres, uCounts), backgroundColor: 'rgba(31,119,180,0.65)', borderColor: 'rgba(0,0,0,0.65)', borderWidth: 1, borderSkipped: false, order: 2 },
      { data: points(binCentres, vCounts), backgroundColor: 'rgba(255,127,14,0.65)', borderColor: 'rgba(0,0,0,0.65)', borderWidth: 1, borderSkipped: false, order: 1 }
    ]
  },
  options: {
    responsive: false,
    layout: { autoPadding: false, padding: { right: 32.3 } },
    datasets: { bar: { grouped: false, barPercentage: 1, categoryPercentage: 1 } },
    plugins: { title: plotTitle('U and V Wind Components', 20.5, 33.3) },
    scales: {
      x: histX,
      y: valueAxis(78.3, 0, 93.45, [0, 20, 40, 60, 80], 'Frequency', 39)
    }
  },
  plugins: [framePlugin]
});
</script>
</body>
</html>
